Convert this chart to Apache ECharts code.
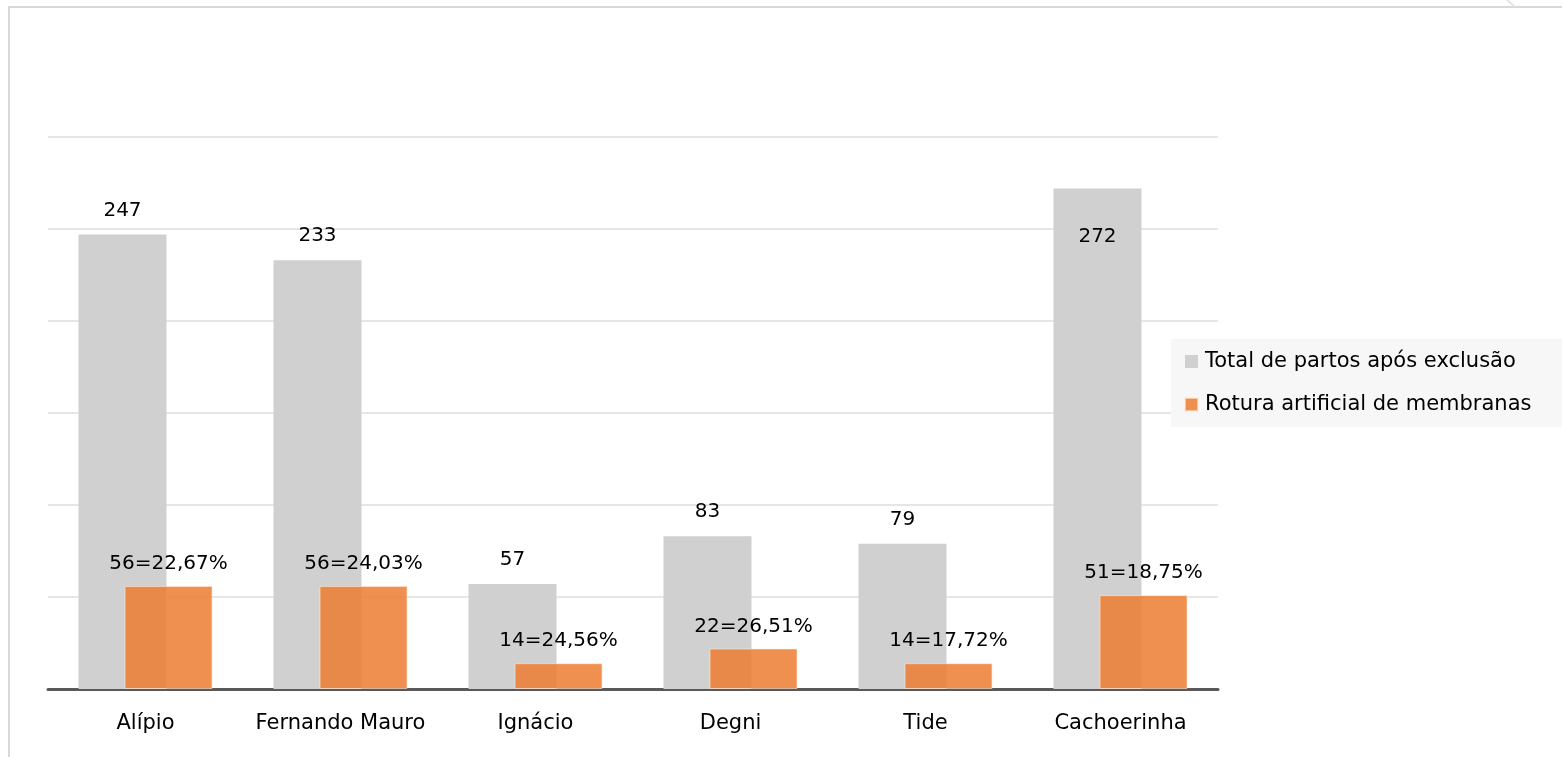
<!DOCTYPE html>
<html>
<head>
<meta charset="utf-8">
<script src="https://cdn.jsdelivr.net/npm/echarts@6/dist/echarts.min.js"></script>
<style>
html,body{margin:0;padding:0;background:#fff;}
#chart{width:1562px;height:757px;}
</style>
</head>
<body>
<div id="chart"></div>
<script>
const categories = ['Alípio', 'Fernando Mauro', 'Ignácio', 'Degni', 'Tide', 'Cachoerinha'];
const totalPartos = [247, 233, 57, 83, 79, 272];
const rotura = [56, 56, 14, 22, 14, 51];
const roturaPct = ['22,67%', '24,03%', '24,56%', '26,51%', '17,72%', '18,75%'];
const seriesNames = ['Total de partos após exclusão', 'Rotura artificial de membranas'];

const FONT = '"DejaVu Sans", "Noto Sans", sans-serif';
const chart = echarts.init(document.getElementById('chart'), null, {renderer: 'canvas'});

const totalData = totalPartos.map((v, i) => {
  if (i === categories.length - 1) {
    return {value: v, label: {position: 'insideTop', distance: 38}};
  }
  return v;
});

chart.setOption({
  animation: false,
  backgroundColor: '#fff',
  grid: {left: 48, right: 344, top: 137, bottom: 68, containLabel: false},
  graphic: [
    {type: 'rect', shape: {x: 9, y: 7, width: 1600, height: 800}, style: {fill: 'none', stroke: '#D9D9D9', lineWidth: 2}, silent: true, z: -10},
    {type: 'line', shape: {x1: 1507, y1: 0, x2: 1515, y2: 7}, style: {stroke: '#E3E3E3', lineWidth: 2}, silent: true, z: -10}
  ],
  legend: {
    orient: 'vertical',
    left: 1171,
    top: 339,
    backgroundColor: '#F7F7F7',
    padding: [12, 36, 12, 13],
    itemWidth: 13,
    itemHeight: 13,
    itemGap: 22,
    icon: 'rect',
    textStyle: {fontFamily: FONT, fontSize: 21, color: '#000', padding: [0, 0, 0, 2]},
    data: seriesNames
  },
  xAxis: {
    type: 'category',
    data: categories,
    axisLine: {lineStyle: {color: '#595959', width: 3}},
    axisTick: {show: false},
    axisLabel: {interval: 0, fontFamily: FONT, fontSize: 21, color: '#000', margin: 24}
  },
  yAxis: {
    type: 'value',
    min: 0,
    max: 300,
    interval: 50,
    axisLabel: {show: false},
    axisLine: {show: false},
    axisTick: {show: false},
    splitLine: {lineStyle: {color: '#E6E6E6', width: 2}}
  },
  series: [
    {
      name: seriesNames[0],
      type: 'bar',
      data: totalData,
      barWidth: 88,
      barGap: '-47.7%',
      itemStyle: {color: '#D0D0D0'},
      label: {show: true, position: 'top', distance: 14, fontFamily: FONT, fontSize: 20, color: '#000'}
    },
    {
      name: seriesNames[1],
      type: 'bar',
      data: rotura,
      barWidth: 88,
      itemStyle: {color: 'rgba(237,125,49,0.85)', borderColor: 'rgba(255,235,220,0.6)', borderWidth: 1},
      label: {
        show: true, position: 'top', distance: 12, fontFamily: FONT, fontSize: 20, color: '#000',
        formatter: p => rotura[p.dataIndex] + '=' + roturaPct[p.dataIndex]
      }
    }
  ]
});
</script>
</body>
</html>
